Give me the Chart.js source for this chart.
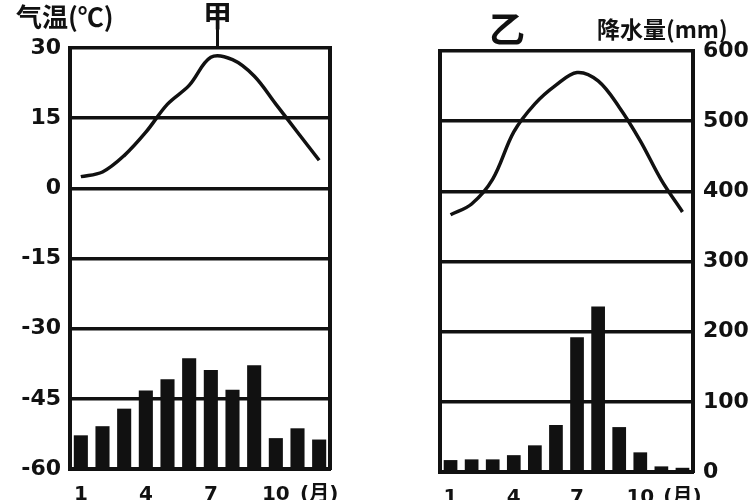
<!DOCTYPE html>
<html>
<head>
<meta charset="utf-8">
<title>甲 乙 气候资料图</title>
<script src="https://cdn.jsdelivr.net/npm/chart.js@4"></script>
<style>
    html, body { margin: 0; padding: 0; background: #fff; }
    #wrap { position: relative; width: 750px; height: 500px; overflow: hidden; color: #111;
            font-family: "Noto Sans CJK SC", sans-serif; }
    canvas { position: absolute; top: 0; }
    #chartJia { left: 0; }
    #chartYi { left: 420px; }
    .lbl { position: absolute; white-space: nowrap; font-weight: bold; line-height: 1; }
    .stem { position: absolute; left: 216px; top: 27px; width: 3px; height: 21px; background: #111; }
</style>
</head>
<body>
<div id="wrap">
    <canvas id="chartJia" width="345" height="500"></canvas>
    <canvas id="chartYi" width="330" height="500"></canvas>
    <div class="lbl" style="left:16px; top:3px; font-size:26px;">气温(℃)</div>
    <div class="lbl" style="left:203px; top:0px; font-size:29px;">甲</div>
    <div class="stem"></div>
    <div class="lbl" style="left:489px; top:9px; font-size:36px;">乙</div>
    <div class="lbl" style="left:597px; top:17px; font-size:23px;">降水量(mm)</div>
</div>

<script>
    /* ---------- data ---------- */

    const MONTHS = ["1", "2", "3", "4", "5", "6", "7", "8", "9", "10", "11", "12"];
    const X_TICK_TEXT = ["1", "", "", "4", "", "", "7", "", "", "10", "", "(月)"];

    const TEMP_TICKS = [30, 15, 0, -15, -30, -45, -60];      // 气温 (℃)
    const RAIN_TICKS = [600, 500, 400, 300, 200, 100, 0];    // 降水量 (mm)

    // 甲
    const TEMP_JIA = [2.5, 3.5, 7, 12, 18, 22, 28, 27.5, 24, 18, 12, 6];
    const RAIN_JIA = [48, 61, 86, 112, 128, 158, 141, 113, 148, 44, 58, 42];

    // 乙
    const TEMP_YI = [-5, -2.7, 2.6, 12.7, 18.7, 22.7, 25.4, 23.6, 18, 10.8, 2.4, -4.4];
    const RAIN_YI = [17, 18, 18, 24, 38, 67, 192, 236, 64, 28, 8, 6];

    /* ---------- shared styling ---------- */

    const INK = "#111";
    const TICK_FONT = { family: "'DejaVu Sans', 'Noto Sans CJK SC', sans-serif", size: 22, weight: "bold" };
    const X_FONT = { family: "'DejaVu Sans', 'Noto Sans CJK SC', sans-serif", size: 20, weight: "bold" };

    function makeTicks(list) {
        return (scale) => { scale.ticks = list.map((v) => ({ value: v })); };
    }

    function renderPanel(id, temps, rains, cfg) {

        const canvas = document.getElementById(id);

        return new Chart(canvas.getContext("2d"), {
            data: {
                labels: MONTHS,
                datasets: [
                    {
                        type: "line",
                        data: temps,
                        borderColor: INK,
                        borderWidth: 3.5,
                        pointRadius: 0,
                        tension: 0.35,
                        yAxisID: "y",
                        order: 0
                    },
                    {
                        type: "bar",
                        data: rains,
                        backgroundColor: INK,
                        barPercentage: 0.65,
                        categoryPercentage: 1,
                        yAxisID: "y1",
                        order: 1
                    }
                ]
            },
            options: {
                responsive: false,
                animation: false,
                layout: { padding: { top: cfg.top, left: 0, right: 0, bottom: 0 } },
                plugins: {
                    legend: { display: false },
                    tooltip: { enabled: false }
                },
                scales: {
                    x: {
                        grid: { display: false },
                        border: { display: true, color: INK, width: 4 },
                        ticks: {
                            color: INK,
                            font: X_FONT,
                            padding: 6,
                            autoSkip: false,
                            maxRotation: 0,
                            callback: (v, i) => X_TICK_TEXT[i]
                        },
                        afterFit: (s) => { s.height = cfg.xHeight; }
                    },
                    y: {
                        position: "left",
                        min: Math.min(...TEMP_TICKS),
                        max: Math.max(...TEMP_TICKS),
                        afterBuildTicks: makeTicks(TEMP_TICKS),
                        grid: { color: INK, lineWidth: 3.5, drawTicks: false },
                        border: { display: true, color: INK, width: 4 },
                        ticks: { display: cfg.showTemp, color: INK, font: TICK_FONT, padding: 9 },
                        afterFit: (s) => { s.width = cfg.leftWidth; }
                    },
                    y1: {
                        position: "right",
                        min: Math.min(...RAIN_TICKS),
                        max: Math.max(...RAIN_TICKS),
                        afterBuildTicks: makeTicks(RAIN_TICKS),
                        grid: { display: false, drawTicks: false },
                        border: { display: true, color: INK, width: 4 },
                        ticks: { display: cfg.showRain, color: INK, font: TICK_FONT, padding: 10 },
                        afterFit: (s) => { s.width = cfg.rightWidth; }
                    }
                }
            }
        });
    }

    renderPanel("chartJia", TEMP_JIA, RAIN_JIA, {
        top: 48, xHeight: 31, leftWidth: 70, rightWidth: 15, showTemp: true, showRain: false
    });

    renderPanel("chartYi", TEMP_YI, RAIN_YI, {
        top: 51, xHeight: 28, leftWidth: 20, rightWidth: 57, showTemp: false, showRain: true
    });
</script>
</body>
</html>
